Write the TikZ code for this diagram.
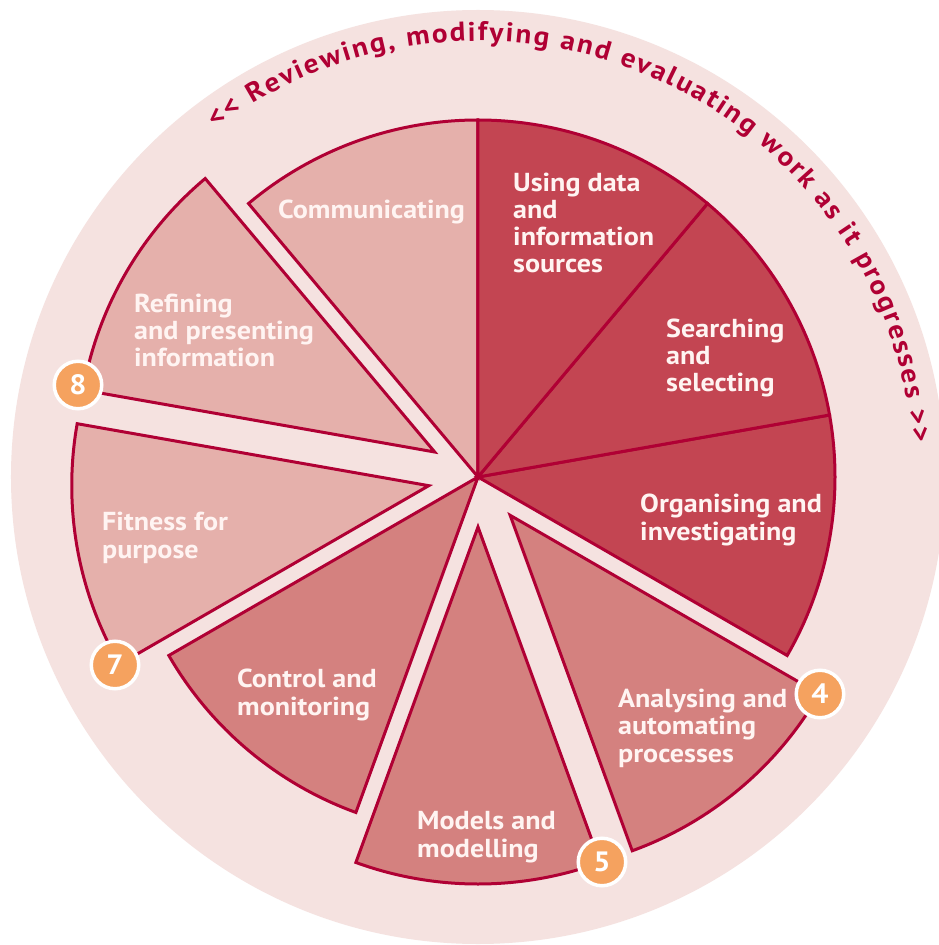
\documentclass[tikz,border=0pt]{standalone}
\usepackage{fontspec}
\setmainfont{PT Sans}[FakeStretch=1.08]
\usetikzlibrary{decorations.text}
\definecolor{bgC}{RGB}{245,226,224}
\definecolor{darkC}{RGB}{195,69,82}
\definecolor{midC}{RGB}{212,129,127}
\definecolor{lightC}{RGB}{229,176,171}
\definecolor{lineC}{RGB}{176,0,52}
\definecolor{orangeC}{RGB}{245,162,95}
\definecolor{txtC}{RGB}{255,244,242}
\begin{document}
\begin{tikzpicture}[x=1pt,y=1pt,
  sec/.style={draw=lineC,line width=3pt,line join=miter},
  lbl/.style={text=txtC,font=\bfseries\fontsize{26}{27.3}\selectfont,align=left,anchor=base west,inner sep=0pt},
  badge/.style={circle,fill=orangeC,draw=white,line width=3.5pt,minimum size=47.5pt,inner sep=0pt,text=white,font=\bfseries\fontsize{28}{28}\selectfont}]
\useasboundingbox (-478,-468) rectangle (461,477);
\fill[white] (-478,-468) rectangle (461,477);
\clip (-478,-468) rectangle (461,477);
\fill[bgC] (0,0) circle[radius=467];
% sectors
\draw[sec,fill=lightC] (0,0) -- (90:357) arc[start angle=90,end angle=130,radius=357] -- cycle;
\draw[sec,fill=lightC,shift={(150:50)}] (0,0) -- (130:357) arc[start angle=130,end angle=170,radius=357] -- cycle;
\draw[sec,fill=lightC,shift={(190:50)}] (0,0) -- (170:357) arc[start angle=170,end angle=210,radius=357] -- cycle;
\draw[sec,fill=midC] (0,0) -- (210:357) arc[start angle=210,end angle=250,radius=357] -- cycle;
\draw[sec,fill=midC,shift={(270:50)}] (0,0) -- (250:357) arc[start angle=250,end angle=290,radius=357] -- cycle;
\draw[sec,fill=midC,shift={(310:50)}] (0,0) -- (290:357) arc[start angle=290,end angle=330,radius=357] -- cycle;
\draw[sec,fill=darkC] (0,0) -- (-30:357) arc[start angle=-30,end angle=10,radius=357] -- cycle;
\draw[sec,fill=darkC] (0,0) -- (10:357) arc[start angle=10,end angle=50,radius=357] -- cycle;
\draw[sec,fill=darkC] (0,0) -- (50:357) arc[start angle=50,end angle=90,radius=357] -- cycle;
% labels (anchor = baseline of last line)
\node[lbl] (comm) at (-200,258) {Communicating};
\node[lbl] (refi) at (-344,110) {Refining\\and presenting\\information};
\node[lbl] (usin) at (35,204) {Using data\\and\\information\\sources};
\node[lbl] (sear) at (188,85) {Searching\\and\\selecting};
\node[lbl] (orga) at (162,-63) {Organising and\\investigating};
\node[lbl] (anal) at (140,-285) {Analysing and\\automating\\processes};
\node[lbl] (mode) at (-61,-380) {Models and\\modelling};
\node[lbl] (cont) at (-241,-238) {Control and\\monitoring};
\node[lbl] (fitn) at (-376,-81) {Fitness for\\purpose};
% title along arc
\path[decorate,decoration={text along path,text align={fit to path},
  text={|\color{lineC}\bfseries\fontsize{27}{27}\selectfont|<< Reviewing, modifying and evaluating work as it progresses >>}}]
  (127:436) arc[start angle=127,end angle=4.5,radius=436];
% badges
\node[badge] (b8) at (-400,92) {8};
\node[badge] (b7) at (-363,-188) {7};
\node[badge] (b4) at (342,-217) {4};
\node[badge] (b5) at (124,-385) {5};
\end{tikzpicture}
\end{document}
